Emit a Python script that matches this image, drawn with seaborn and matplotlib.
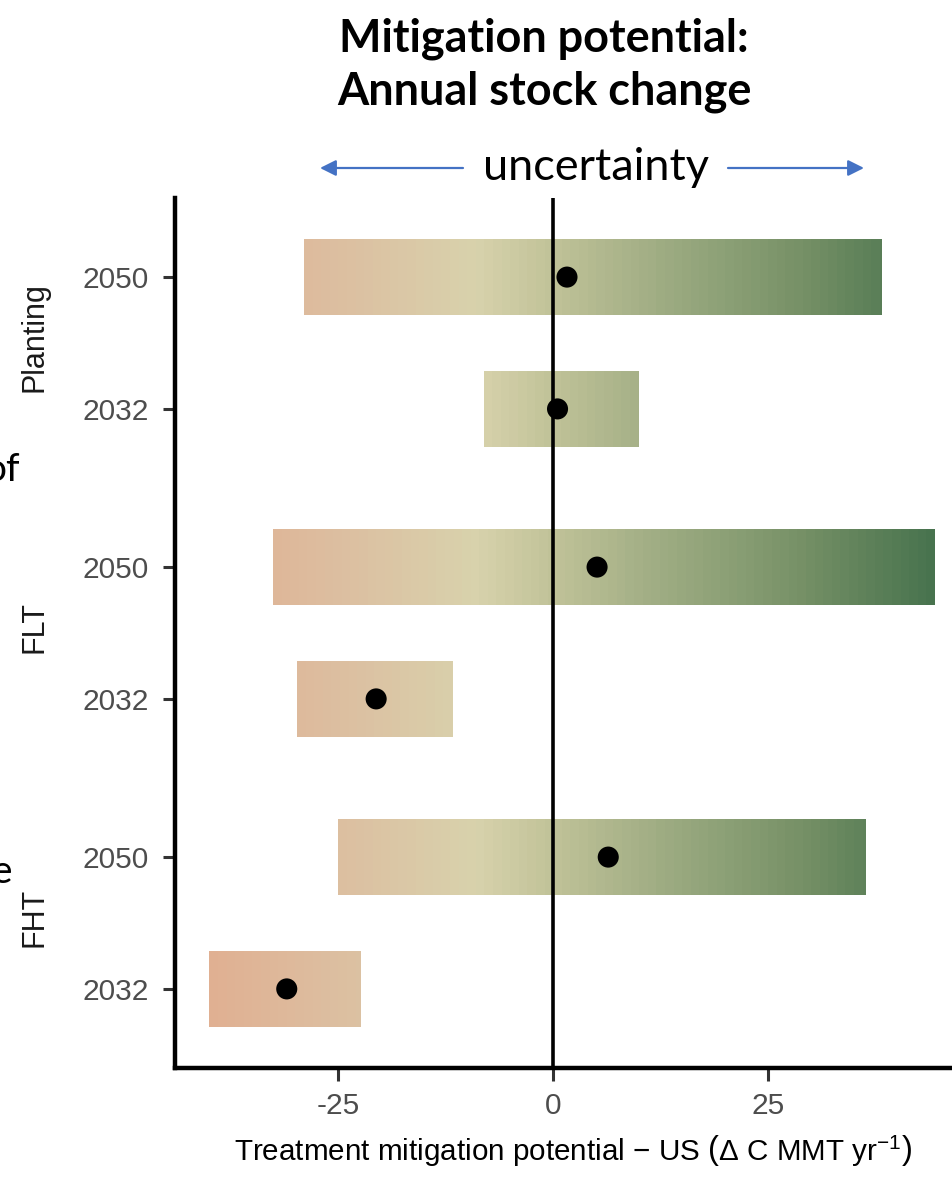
import numpy as np
import pandas as pd
import matplotlib
matplotlib.use("Agg")
import matplotlib.pyplot as plt
import seaborn as sns
from matplotlib.colors import LinearSegmentedColormap, Normalize
from matplotlib.lines import Line2D

# ---- data -------------------------------------------------------------
treatments = ["Planting", "FLT", "FHT"]
years = ["2050", "2032"]
# rows: Planting 2050, Planting 2032, FLT 2050, FLT 2032, FHT 2050, FHT 2032
lower = [-29.0, -8.1, -32.6, -29.8, -25.0, -40.0]
upper = [38.3, 10.0, 44.4, -11.7, 36.4, -22.4]
estimate = [1.6, 0.5, 5.1, -20.6, 6.4, -31.0]
x_ticks = [-25, 0, 25]
x_tick_labels = ["-25", "0", "25"]

# fill gradient along the x axis (value -> colour)
fill_values = [-40, -25, -9, 0, 10, 20, 30, 44]
fill_colors = ["#e0b092", "#dcbea0", "#d8d2ac", "#c0c298",
               "#a5b087", "#8ca076", "#738e64", "#48734e"]

# ---- style ------------------------------------------------------------
sns.set_theme(style="ticks")
plt.rcParams["font.family"] = ["Liberation Sans", "DejaVu Sans"]
plt.rcParams["mathtext.fontset"] = "custom"
plt.rcParams["mathtext.rm"] = "Liberation Sans"
plt.rcParams["mathtext.it"] = "Liberation Sans:italic"
plt.rcParams["mathtext.bf"] = "Liberation Sans:bold"

vmin, vmax = fill_values[0], fill_values[-1]
norm = Normalize(vmin, vmax)
cmap = LinearSegmentedColormap.from_list(
    "mitigation", [(norm(v), c) for v, c in zip(fill_values, fill_colors)])

df = pd.DataFrame({
    "treatment": np.repeat(treatments, len(years)),
    "year": years * len(treatments),
    "lower": lower,
    "upper": upper,
    "estimate": estimate,
})
df["pos"] = [years.index(y) for y in df["year"]]

W, H = 953, 1195
fig = plt.figure(figsize=(W / 100, H / 100), dpi=100)

ax_left_px, ax_right_px = 175, 971
panel_top_px, panel_h_px = 198, 290
xlim = (-44.0, 48.6)
bar_h = 0.58
step = 1.0

axes = []
for k, trt in enumerate(treatments):
    bottom = 1 - (panel_top_px + (k + 1) * panel_h_px) / H
    ax = fig.add_axes([ax_left_px / W, bottom,
                       (ax_right_px - ax_left_px) / W, panel_h_px / H])
    axes.append(ax)
    sub = df[df["treatment"] == trt]

    # banded gradient bars
    for _, r in sub.iterrows():
        edges = np.arange(r["lower"], r["upper"], step)
        edges = np.append(edges, r["upper"])
        lefts = edges[:-1]
        widths = np.diff(edges)
        mids = lefts + widths / 2
        ax.barh(np.full(len(lefts), r["pos"]), widths, left=lefts,
                height=bar_h, color=cmap(norm(mids)), linewidth=0,
                zorder=1)

    ax.axvline(0, color="black", lw=2.6, zorder=3)
    sns.scatterplot(data=sub, x="estimate", y="pos", color="black",
                    s=230, edgecolor="none", ax=ax, zorder=5, legend=False)

    ax.set_xlim(*xlim)
    ax.set_ylim(1.6, -0.6)
    ax.set_yticks(range(len(years)))
    ax.set_yticklabels(years)
    ax.set_ylabel("")
    ax.set_xlabel("")
    ax.set_facecolor("none")
    for s in ["top", "right", "left"]:
        ax.spines[s].set_visible(False)
    ax.tick_params(axis="y", length=9, width=2.2, color="#333333",
                   labelcolor="#4d4d4d", labelsize=21.5, pad=10)
    if k < len(treatments) - 1:
        ax.spines["bottom"].set_visible(False)
        ax.tick_params(axis="x", bottom=False, labelbottom=False)
    else:
        ax.spines["bottom"].set_linewidth(3.2)
        ax.spines["bottom"].set_color("black")
        ax.spines["bottom"].set_capstyle("projecting")
        ax.set_xticks(x_ticks)
        ax.set_xticklabels(x_tick_labels)
        ax.tick_params(axis="x", length=9, width=2.2, color="#333333",
                       labelcolor="#4d4d4d", labelsize=21.5, pad=8)
        ax.set_xlabel(r"Treatment mitigation potential $-$ US $\left(\Delta\ \mathrm{C\ MMT\ yr}^{-1}\right)$",
                      fontsize=21.3, color="black", labelpad=10)

    # facet strip label on the left
    center = 1 - (panel_top_px + (k + 0.5) * panel_h_px - 6) / H
    fig.text(35 / W, center, trt, rotation=90, ha="center", va="center",
             fontsize=22, color="#1a1a1a")

# one continuous y axis line shared by the stacked panels
y_top = 1 - panel_top_px / H
y_bot = 1 - (panel_top_px + len(treatments) * panel_h_px) / H
fig.add_artist(Line2D([ax_left_px / W, ax_left_px / W], [y_bot, y_top],
                      transform=fig.transFigure, color="black", lw=3.2,
                      solid_capstyle="projecting", zorder=10))

# ---- heading and uncertainty arrows ------------------------------------
fig.text(544 / W, 1 - 65 / H, "Mitigation potential:\nAnnual stock change",
         ha="center", va="center", fontsize=32.4, fontweight="bold",
         family=["Lato", "DejaVu Sans"], linespacing=1.3, color="black")
fig.text(596 / W, 1 - 168 / H, "uncertainty", ha="center", va="center",
         fontsize=32.5, family=["Lato", "DejaVu Sans"], color="black")

arrow_kw = dict(arrowstyle="-|>", color="#4472c4", lw=1.6,
                mutation_scale=24, shrinkA=0, shrinkB=0)
y_arr = 1 - 168 / H
axes[0].annotate("", xy=(320 / W, y_arr), xytext=(463 / W, y_arr),
                 xycoords="figure fraction", textcoords="figure fraction",
                 arrowprops=arrow_kw, annotation_clip=False)
axes[0].annotate("", xy=(864 / W, y_arr), xytext=(728 / W, y_arr),
                 xycoords="figure fraction", textcoords="figure fraction",
                 arrowprops=arrow_kw, annotation_clip=False)

# text running in from the left margin
fig.text(20 / W, 1 - 470 / H, "of", ha="right", va="center", fontsize=28,
         family=["Lato", "DejaVu Sans"], color="black")
fig.text(12 / W, 1 - 872 / H, "e", ha="right", va="center", fontsize=28,
         family=["Lato", "DejaVu Sans"], color="black")

fig.savefig("out.png", dpi=100, facecolor="white")
